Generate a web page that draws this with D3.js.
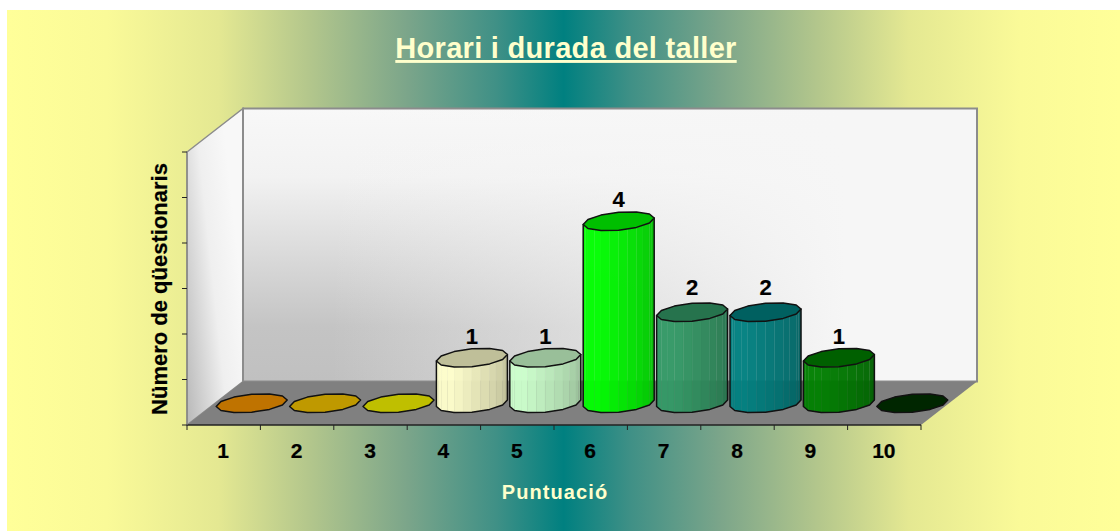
<!DOCTYPE html>
<html><head><meta charset="utf-8">
<script src="https://cdn.jsdelivr.net/npm/d3@7"></script>
<style>html,body{margin:0;padding:0;background:#fff}svg{display:block}text{font-family:"Liberation Sans",Arial,sans-serif;font-weight:bold}</style>
</head><body><svg id="c" width="1120" height="531"></svg>
<script>
const categories=["1","2","3","4","5","6","7","8","9","10"];
const values=[0,0,0,1,1,4,2,2,1,0];
const colors=["#ff9900","#ffcc00","#ffff00","#ffffcc","#ccffcc","#00ff00","#339966","#008080","#008000","#003300"];
const yTicks=[0,1,2,3,4,5,6];
const titleText="Horari i durada del taller";
const xTitleText="Puntuació";
const yTitleText="Nümero de qüestionaris";

const svg=d3.select("#c");
const defs=svg.append("defs");
const bg=defs.append("linearGradient").attr("id","bg");
const half=[[0,"#ffff99"],[0.09,"#fafa98"],[0.19,"#e4e892"],[0.27,"#b4c78c"],[0.36,"#7ba58a"],[0.44,"#3f9086"],[0.5,"#008080"]];
half.forEach(s=>bg.append("stop").attr("offset",s[0]).attr("stop-color",s[1]));
half.slice(0,-1).reverse().forEach(s=>bg.append("stop").attr("offset",1-s[0]).attr("stop-color",s[1]));
const back=defs.append("linearGradient").attr("id","back").attr("x1",0).attr("y1",1).attr("x2",0).attr("y2",0);
[[0,"#c0c0c0"],[0.2,"#c4c4c4"],[0.75,"#f2f2f2"],[1,"#f8f8f8"]].forEach(s=>back.append("stop").attr("offset",s[0]).attr("stop-color",s[1]));
const backR=defs.append("linearGradient").attr("id","backR").attr("x1",0.12).attr("x2",0.82);
[[0,"#f6f6f6",0],[1,"#f6f6f6",1]].forEach(s=>backR.append("stop").attr("offset",s[0]).attr("stop-color",s[1]).attr("stop-opacity",s[2]));
const side=defs.append("linearGradient").attr("id","side").attr("x1",0).attr("y1",1).attr("x2",0.9).attr("y2",0.45);
[[0,"#b8b8b8"],[0.6,"#efefef"],[1,"#f8f8f8"]].forEach(s=>side.append("stop").attr("offset",s[0]).attr("stop-color",s[1]));

svg.append("rect").attr("x",7).attr("y",10).attr("width",1113).attr("height",521).attr("fill","url(#bg)");

const x=d3.scaleBand().domain(categories).range([187,921]);
const y=d3.scaleLinear().domain([0,6]).range([425,152]);
const dx=56,dy=-43.5;
const line=d3.line();
const wall="#8c8c8c";

// walls and floor
svg.append("path").attr("d",line([[187,y(0)],[187+dx,y(0)+dy],[187+dx,y(6)+dy],[187,y(6)]])+"Z").attr("fill","url(#side)").attr("stroke",wall).attr("stroke-width",1.5);
svg.append("rect").attr("x",187+dx).attr("y",y(6)+dy).attr("width",921-187).attr("height",y(0)-y(6)).attr("fill","url(#back)");
svg.append("rect").attr("x",187+dx).attr("y",y(6)+dy).attr("width",921-187).attr("height",y(0)-y(6)).attr("fill","url(#backR)").attr("stroke",wall).attr("stroke-width",2);
svg.append("path").attr("d",line([[187,y(0)],[921,y(0)],[921+dx,y(0)+dy],[187+dx,y(0)+dy]])+"Z").attr("fill","#808080");

// axes
const ax=svg.append("g").attr("transform",`translate(-0.5,${y(0)})`).call(d3.axisBottom(x).tickSize(0).tickPadding(0));
ax.select(".domain").remove();
ax.selectAll("text").attr("dy",null).attr("y",33).attr("font-size",21).attr("fill","#000").attr("stroke","#000").attr("stroke-width",0.2).style("font-family",'"Liberation Sans",Arial,sans-serif').style("font-weight","bold");
const edges=categories.map(c=>x(c)).concat([x.range()[1]]);
svg.append("g").selectAll("line").data(edges).join("line").attr("x1",d=>d).attr("x2",d=>d).attr("y1",y(0)).attr("y2",y(0)+5).attr("stroke","#222");
svg.append("line").attr("x1",187).attr("x2",921).attr("y1",y(0)).attr("y2",y(0)).attr("stroke","#222").attr("stroke-width",1.5);
svg.append("line").attr("x1",187).attr("x2",187).attr("y1",y(0)).attr("y2",y(6)).attr("stroke","#808080");
svg.append("g").selectAll("line").data(yTicks).join("line").attr("x1",182).attr("x2",187).attr("y1",d=>y(d)).attr("y2",d=>y(d)).attr("stroke","#222");

// bars: faceted elliptical cylinders standing in the middle of the floor depth
const a=33.4,b=12,c=9.5,N=12,SUB=2,off=Math.atan2(b,a);
const shade=(col,k)=>{const h=d3.rgb(col);return d3.rgb(h.r*k,h.g*k,h.b*k).formatRgb();};
const pts=(cx,cy)=>d3.range(N).map(i=>{const t=off+i*2*Math.PI/N;return [cx+a*Math.cos(t)+b*Math.sin(t),cy-c*Math.sin(t)];});
const gBars=svg.append("g");
categories.forEach((cat,i)=>{
  const v=values[i],cx=x(cat)+x.bandwidth()/2+dx/2,base=y(0)+dy/2,top=y(v)+dy/2;
  const g=gBars.append("g");
  const P=pts(cx,base),T=pts(cx,top);
  const idx=d3.range(N/2,N+1).map(k=>k%N);
  if(v>0){
    const last=idx.length-1;
    const strips=g.append("g").attr("opacity",0.96);
    d3.range(last).forEach(j=>{
      d3.range(SUB).forEach(s=>{
        const A=P[idx[j]],B=P[idx[j+1]],h=top-base;
        const p0=[A[0]+(B[0]-A[0])*s/SUB,A[1]+(B[1]-A[1])*s/SUB];
        const p1=[A[0]+(B[0]-A[0])*(s+1)/SUB,A[1]+(B[1]-A[1])*(s+1)/SUB];
        const f=(j*SUB+s)/(last*SUB-1);
        const col=shade(colors[i],f<0.3?1:1-0.25*(f-0.3)/0.7);
        strips.append("path").attr("d",line([p0,p1,[p1[0],p1[1]+h],[p0[0],p0[1]+h]])+"Z").attr("fill",col).attr("stroke",col).attr("stroke-width",0.3);
      });
    });
    const outline=idx.map(k=>P[k]).concat([T[0],T[N/2]]);
    g.append("path").attr("d",line(outline)+"Z").attr("fill","none").attr("stroke","#111").attr("stroke-width",1.5).attr("stroke-linejoin","round");
  }
  g.append("path").attr("d",line(T)+"Z").attr("fill",shade(colors[i],0.75)).attr("stroke","#111").attr("stroke-width",1.5).attr("stroke-linejoin","round");
  if(v>0) g.append("text").attr("x",cx).attr("y",top-(v===2?17:14)).attr("text-anchor","middle").attr("font-size",22).attr("stroke","#000").attr("stroke-width",0.2).text(v);
});

// titles
svg.append("text").attr("x",566).attr("y",58).attr("text-anchor","middle").attr("font-size",29).attr("letter-spacing",0.3).attr("fill","#ffffcc").attr("text-decoration","underline").text(titleText);
svg.append("text").attr("x",555).attr("y",499).attr("text-anchor","middle").attr("font-size",20).attr("letter-spacing",1.1).attr("fill","#ffffcc").text(xTitleText);
svg.append("text").attr("transform","translate(167,289) rotate(-90)").attr("text-anchor","middle").attr("font-size",22).attr("fill","#000").attr("stroke","#000").attr("stroke-width",0.2).text(yTitleText);
</script></body></html>
